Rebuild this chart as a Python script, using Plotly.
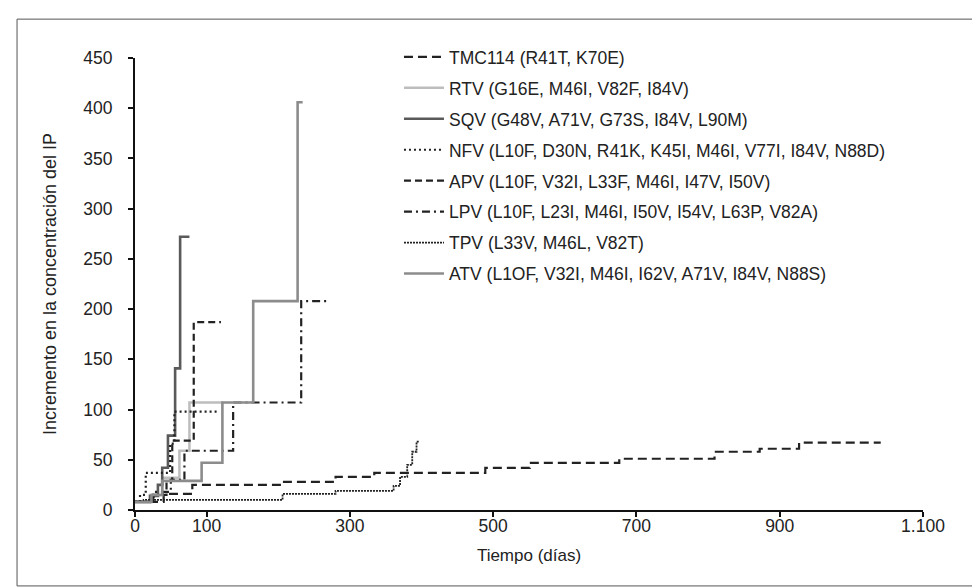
import plotly.graph_objects as go

# ---- data (days, fold increase in PI concentration) ----
tmc_days = [0, 40, 80, 204, 280, 334, 489, 551, 676, 809, 872, 927, 1041]
tmc_vals = [8, 16, 25, 28, 33, 37, 42, 47, 51, 58, 61, 67, 67]

rtv_days = [0, 21, 38, 62, 76, 123]
rtv_vals = [8, 15, 32, 59, 107, 107]

sqv_days = [0, 21, 32, 38, 46, 56, 63, 76]
sqv_vals = [8, 14, 25, 42, 74, 141, 272, 272]

nfv_days = [0, 7, 15, 49, 55, 116]
nfv_vals = [8, 15, 37, 66, 98, 98]

apv_days = [0, 26, 44, 52, 82, 120]
apv_vals = [8, 15, 29, 69, 187, 187]

lpv_days = [0, 25, 50, 69, 137, 232, 272]
lpv_vals = [8, 18, 30, 59, 107, 208, 208]

tpv_days = [0, 12, 206, 280, 361, 370, 380, 387, 393, 397]
tpv_vals = [8, 10, 16, 19, 24, 33, 45, 58, 68, 68]

atv_days = [0, 23, 38, 93, 122, 165, 227, 234]
atv_vals = [8, 15, 29, 47, 107, 208, 406, 406]

names = [
    "TMC114 (R41T, K70E)",
    "RTV (G16E, M46I, V82F, I84V)",
    "SQV (G48V, A71V, G73S, I84V, L90M)",
    "NFV (L10F, D30N, R41K, K45I, M46I, V77I, I84V, N88D)",
    "APV (L10F, V32I, L33F, M46I, I47V, I50V)",
    "LPV (L10F, L23I, M46I, I50V, I54V, L63P, V82A)",
    "TPV (L33V, M46L, V82T)",
    "ATV (L1OF, V32I, M46I, I62V, A71V, I84V, N88S)",
]

x_ticks = [0, 100, 300, 500, 700, 900, 1100]
x_ticktext = ["0", "100", "300", "500", "700", "900", "1.100"]
y_ticks = [0, 50, 100, 150, 200, 250, 300, 350, 400, 450]

series = [
    (tmc_days, tmc_vals, dict(color="#222222", width=2.2, dash="9px,5px")),
    (rtv_days, rtv_vals, dict(color="#bdbdbd", width=2.5)),
    (sqv_days, sqv_vals, dict(color="#5a5a5a", width=2.6)),
    (nfv_days, nfv_vals, dict(color="#222222", width=2.2, dash="2px,3px")),
    (apv_days, apv_vals, dict(color="#222222", width=2.2, dash="7px,4px")),
    (lpv_days, lpv_vals, dict(color="#222222", width=2.2, dash="8px,4px,2px,4px")),
    (tpv_days, tpv_vals, dict(color="#222222", width=1.8, dash="2px,1px")),
    (atv_days, atv_vals, dict(color="#8c8c8c", width=2.6)),
]

fig = go.Figure()
for i, ((xs, ys, ln), nm) in enumerate(zip(series, names)):
    fig.add_trace(go.Scatter(
        x=xs, y=ys, mode="lines", name=nm, line=dict(shape="hv", **ln),
        legendgroup=f"g{i}", hoverinfo="skip",
    ))

font_family = "Liberation Sans, Arial, Helvetica, sans-serif"
fig.update_layout(
    width=980, height=587,
    margin=dict(l=127, r=65, t=50, b=85),
    paper_bgcolor="white", plot_bgcolor="white",
    font=dict(family=font_family, size=17, color="#222222"),
    showlegend=True,
    legend=dict(
        x=0.335, y=1.042, xanchor="left", yanchor="top",
        font=dict(size=17.5, color="#222222"),
        itemwidth=40, tracegroupgap=5.2, bgcolor="rgba(0,0,0,0)",
    ),
    xaxis=dict(
        range=[0, 1100], tickvals=x_ticks, ticktext=x_ticktext,
        showline=True, linecolor="#111111", linewidth=2,
        ticks="outside", ticklen=5, tickwidth=1.5, tickcolor="#111111",
        showgrid=False, zeroline=False, ticklabelstandoff=-6,
        title=dict(text="Tiempo (días)", font=dict(size=17), standoff=14),
        tickfont=dict(size=17.5),
    ),
    yaxis=dict(
        range=[0, 450], tickvals=y_ticks,
        showline=True, linecolor="#111111", linewidth=2,
        ticks="outside", ticklen=5, tickwidth=1.5, tickcolor="#111111",
        showgrid=False, zeroline=False, ticklabelstandoff=12,
        title=dict(text="Incremento en la concentración del IP", font=dict(size=18), standoff=22),
        tickfont=dict(size=17.5),
    ),
    shapes=[dict(
        type="rect", xref="paper", yref="paper",
        x0=-0.1497, x1=1.071, y0=-0.168, y1=1.086,
        line=dict(color="#555555", width=1), fillcolor="rgba(0,0,0,0)", layer="below",
    )],
)

fig.write_html("out.html")
